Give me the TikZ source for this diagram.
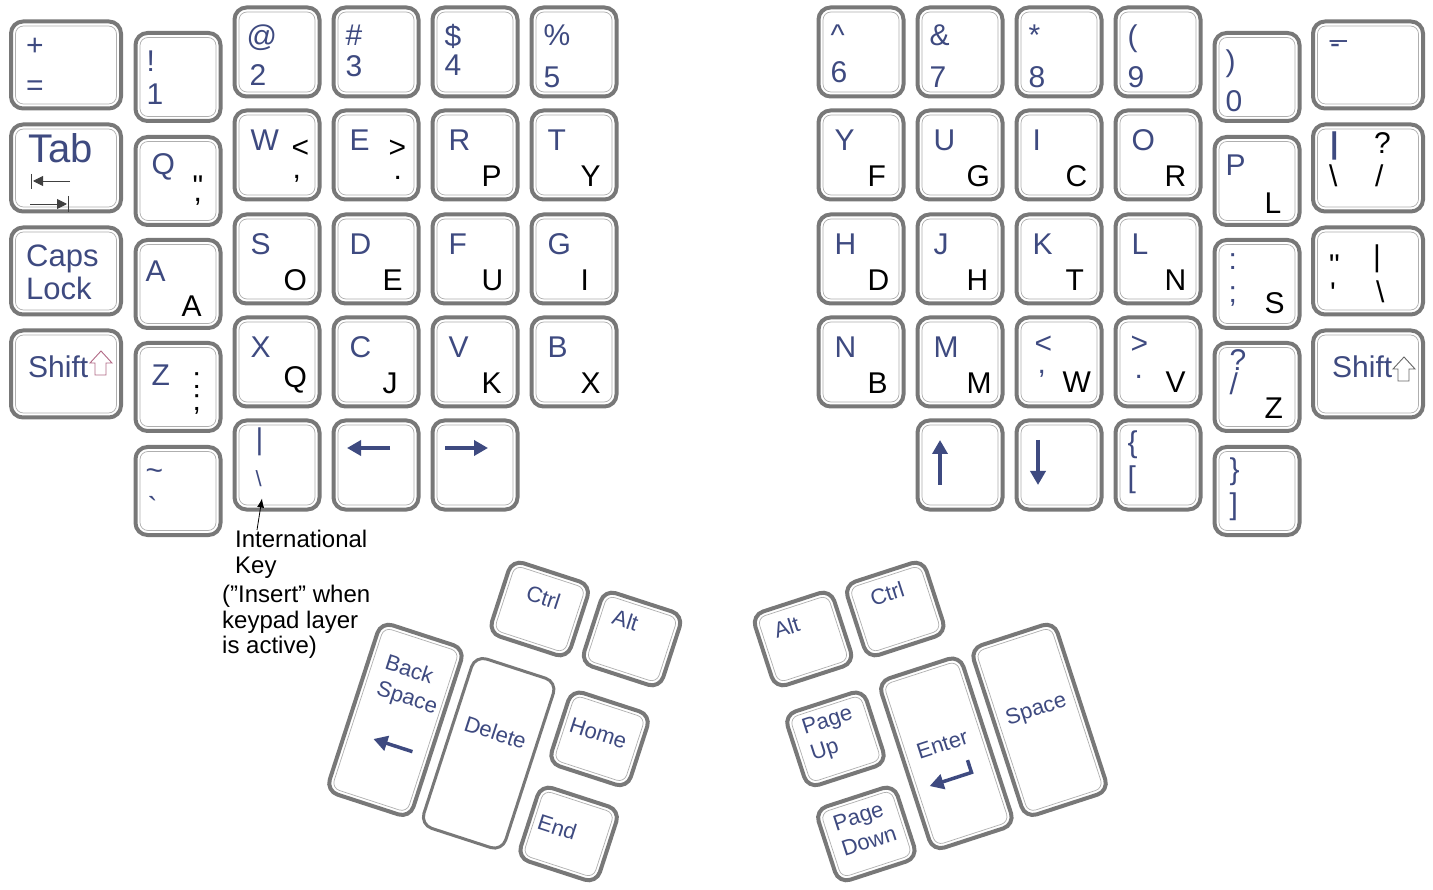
\documentclass[tikz,border=0pt]{standalone}
\usepackage{fontspec}
\setmainfont{Liberation Sans}
\usepackage{tikz}
\usetikzlibrary{arrows.meta,positioning}
\definecolor{keyedge}{RGB}{120,120,120}
\definecolor{keyrim}{RGB}{175,175,175}
\definecolor{qwblue}{RGB}{62,74,128}
\definecolor{shiftmauve}{RGB}{178,106,134}

% key cap with inner rim: name, centre, width, height
\newcommand{\kbkey}[4]{%
  \pgfmathsetmacro{\kbrimw}{#3-9}%
  \pgfmathsetmacro{\kbrimh}{#4-9}%
  \node[keycap, minimum width=#3pt, minimum height=#4pt] (#1) at (#2) {};
  \node[keyrimline, minimum width=\kbrimw pt, minimum height=\kbrimh pt] (#1-rim) at (#1.center) {};
}

\begin{document}
\begin{tikzpicture}[x=1pt, y=-1pt,
  keycap/.style={draw=keyedge, line width=4pt, rounded corners=12pt, fill=white, inner sep=0pt},
  keyrimline/.style={draw=keyrim, line width=0.7pt, rounded corners=8pt, inner sep=0pt},
  qw/.style={text=qwblue, inner sep=0pt, font=\fontsize{30}{33}\selectfont},
  dv/.style={text=black, inner sep=0pt, font=\fontsize{30}{33}\selectfont},
  qwtl/.style={qw, below right=21pt and 18pt of #1.north west},
  dvbr/.style={dv, above right=15pt and 51pt of #1.south west},
  numtl/.style={qw, below right=19pt and 14pt of #1.north west},
  numbl/.style={qw, above right=13pt and 14pt of #1.south west},
  thumb/.style={text=qwblue, inner sep=0pt, font=\fontsize{22}{27}\selectfont, align=left},
  glyph/.style={qwblue, line width=3.5pt, -{Triangle[length=14pt,width=15pt]}},
  tabglyph/.style={black!75, line width=0.9pt, -{Triangle[length=10pt,width=10pt]}},
  tabbar/.style={black!75, line width=0.9pt},
  shiftglyph/.style={line width=0.9pt, line join=miter},
  note/.style={text=black, inner sep=0pt, font=\fontsize{24}{25.5}\selectfont, align=left},
  notearrow/.style={black, line width=0.8pt, -{Latex[length=9pt,width=7pt]}}
]
\useasboundingbox (0,0) rectangle (1433,890);

% left hand, outer columns
\kbkey{kEq}{66,65}{110}{87}
\kbkey{kTab}{66,168}{110}{87}
\kbkey{kCaps}{66,271}{110}{87}
\kbkey{kLShift}{66,374}{110}{87}
\kbkey{k1}{178,77}{85}{88}
\kbkey{kQ}{178,181}{85}{88}
\kbkey{kA}{178,284}{85}{88}
\kbkey{kZ}{178,387}{85}{88}
\kbkey{kGrave}{178,491}{85}{88}
% left hand, main block
\kbkey{k2}{277,52}{85}{89}
\kbkey{kW}{277,155}{85}{89}
\kbkey{kS}{277,259}{85}{89}
\kbkey{kX}{277,362}{85}{89}
\kbkey{kIntl}{277,465}{85}{89}
\kbkey{k3}{376,52}{85}{89}
\kbkey{kE}{376,155}{85}{89}
\kbkey{kD}{376,259}{85}{89}
\kbkey{kC}{376,362}{85}{89}
\kbkey{kLeft}{376,465}{85}{89}
\kbkey{k4}{475,52}{85}{89}
\kbkey{kR}{475,155}{85}{89}
\kbkey{kF}{475,259}{85}{89}
\kbkey{kV}{475,362}{85}{89}
\kbkey{kRight}{475,465}{85}{89}
\kbkey{k5}{574,52}{85}{89}
\kbkey{kT}{574,155}{85}{89}
\kbkey{kG}{574,259}{85}{89}
\kbkey{kB}{574,362}{85}{89}

% right hand, main block
\kbkey{k6}{861,52}{85}{89}
\kbkey{kY}{861,155}{85}{89}
\kbkey{kH}{861,259}{85}{89}
\kbkey{kN}{861,362}{85}{89}
\kbkey{k7}{960,52}{85}{89}
\kbkey{kU}{960,155}{85}{89}
\kbkey{kJ}{960,259}{85}{89}
\kbkey{kM}{960,362}{85}{89}
\kbkey{kUp}{960,465}{85}{89}
\kbkey{k8}{1059,52}{85}{89}
\kbkey{kI}{1059,155}{85}{89}
\kbkey{kK}{1059,259}{85}{89}
\kbkey{kComma}{1059,362}{85}{89}
\kbkey{kDown}{1059,465}{85}{89}
\kbkey{k9}{1158,52}{85}{89}
\kbkey{kO}{1158,155}{85}{89}
\kbkey{kL}{1158,259}{85}{89}
\kbkey{kPeriod}{1158,362}{85}{89}
\kbkey{kLBrace}{1158,465}{85}{89}
% right hand, outer columns
\kbkey{k0}{1257,77}{85}{88}
\kbkey{kP}{1257,181}{85}{88}
\kbkey{kSemi}{1257,284}{85}{88}
\kbkey{kSlash}{1257,387}{85}{88}
\kbkey{kRBrace}{1257,491}{85}{88}
\kbkey{kMinus}{1368,65}{110}{87}
\kbkey{kBslash}{1368,168}{110}{87}
\kbkey{kQuote}{1368,271}{110}{87}
\kbkey{kRShift}{1368,374}{110}{87}

% legends, left outer columns
\node[qw, below right=18pt and 17pt of kEq.north west] (lPlus) {+};
\node[qw, above right=15pt and 17pt of kEq.south west] (lEqual) {=};
\node[qw, font=\fontsize{40}{44}\selectfont, below right=11pt and 19pt of kTab.north west] (lTab) {Tab};
\draw[tabglyph] (70,181) -- (33,181);
\draw[tabbar] (31,174) -- (31,189);
\draw[tabglyph] (30,204) -- (67,204);
\draw[tabbar] (68,196) -- (68,212);
\node[qw, align=left, font=\fontsize{31}{33}\selectfont, below right=19pt and 17pt of kCaps.north west] (lCaps) {Caps\\Lock};
\node[qw, below right=27pt and 19pt of kLShift.north west] (lLShift) {Shift};
\draw[shiftglyph, draw=shiftmauve, shift={(101,351)}] (0,0) -- (11,12) -- (5,12) -- (5,24) -- (-6,24) -- (-6,12) -- (-11,12) -- cycle;
\node[qw, below right=20pt and 13pt of k1.north west] (l1a) {!};
\node[qw, above right=18pt and 13pt of k1.south west] (l1b) {1};
\node[qw, below right=18pt and 18pt of kQ.north west] (lQ) {Q};
\node[dv, below right=41pt and 59pt of kQ.north west] (lQa) {\textquotedbl};
\node[dv, below right=63pt and 60pt of kQ.north west] (lQb) {,};
\node[qw, below right=23pt and 12pt of kA.north west] (lA) {A};
\node[dv, above right=13pt and 48pt of kA.south west] (lAd) {A};
\node[qw, below right=24pt and 18pt of kZ.north west] (lZ) {Z};
\node[dv, below right=31pt and 59pt of kZ.north west] (lZa) {:};
\node[dv, below right=53pt and 59pt of kZ.north west] (lZb) {;};
\node[qw, below right=23pt and 12pt of kGrave.north west] (lTilde) {\textasciitilde};
\node[qw, below right=51pt and 14pt of kGrave.north west] (lGrave) {\textasciigrave};

% legends, left main block
\node[numtl=k2] (l2a) {@};
\node[qw, above right=13pt and 17pt of k2.south west] (l2b) {2};
\node[qwtl=kW] (lW) {W};
\node[dv, below right=31pt and 59pt of kW.north west] (lWa) {<};
\node[dv, below right=67pt and 60pt of kW.north west] (lWb) {,};
\node[qwtl=kS] (lS) {S};
\node[dvbr=kS] (lSd) {O};
\node[qwtl=kX] (lX) {X};
\node[dvbr=kX] (lXd) {Q};
\node[qw, below right=9pt and 23pt of kIntl.north west] (lIntla) {|};
\node[qw, font=\fontsize{22}{24}\selectfont, below right=52pt and 23pt of kIntl.north west] (lIntlb) {\textbackslash};
\node[numtl=k3] (l3a) {\#};
\node[qw, above right=22pt and 14pt of k3.south west] (l3b) {3};
\node[qwtl=kE] (lE) {E};
\node[dv, below right=31pt and 57pt of kE.north west] (lEa) {>};
\node[dv, below right=68pt and 62pt of kE.north west] (lEb) {.};
\node[qwtl=kD] (lD) {D};
\node[dvbr=kD] (lDd) {E};
\node[qwtl=kC] (lC) {C};
\node[dvbr=kC] (lCd) {J};
\draw[glyph] ([xshift=14pt,yshift=17pt]kLeft.center) -- ([xshift=-29pt,yshift=17pt]kLeft.center);
\node[numtl=k4] (l4a) {\$};
\node[qw, above right=23pt and 14pt of k4.south west] (l4b) {4};
\node[qwtl=kR] (lR) {R};
\node[dvbr=kR] (lRd) {P};
\node[qwtl=kF] (lF) {F};
\node[dvbr=kF] (lFd) {U};
\node[qwtl=kV] (lV) {V};
\node[dvbr=kV] (lVd) {K};
\draw[glyph] ([xshift=-30pt,yshift=17pt]kRight.center) -- ([xshift=13pt,yshift=17pt]kRight.center);
\node[numtl=k5] (l5a) {\%};
\node[qw, above right=11pt and 14pt of k5.south west] (l5b) {5};
\node[qwtl=kT] (lT) {T};
\node[dvbr=kT] (lTd) {Y};
\node[qwtl=kG] (lG) {G};
\node[dvbr=kG] (lGd) {I};
\node[qwtl=kB] (lB) {B};
\node[dvbr=kB] (lBd) {X};

% international key note
\node[note, anchor=north west] (nIntl) at (235,530) {International\\Key};
\node[note, below=7pt of nIntl.south west, anchor=north west, xshift=-13pt] (nIntlNote) {("Insert” when\\keypad layer\\is active)};
\coordinate (intlTip) at ([xshift=-15pt,yshift=13pt]kIntl.south);
\draw[notearrow] ([xshift=22pt]nIntl.north west) -- (intlTip);

% legends, right main block
\node[numtl=k6] (l6a) {\textasciicircum};
\node[qw, above right=16pt and 14pt of k6.south west] (l6b) {6};
\node[qwtl=kY] (lY) {Y};
\node[dvbr=kY] (lYd) {F};
\node[qwtl=kH] (lH) {H};
\node[dvbr=kH] (lHd) {D};
\node[qwtl=kN] (lN) {N};
\node[dvbr=kN] (lNd) {B};
\node[numtl=k7] (l7a) {\&};
\node[qw, above right=11pt and 14pt of k7.south west] (l7b) {7};
\node[qwtl=kU] (lU) {U};
\node[dvbr=kU] (lUd) {G};
\node[qwtl=kJ] (lJ) {J};
\node[dvbr=kJ] (lJd) {H};
\node[qwtl=kM] (lM) {M};
\node[dvbr=kM] (lMd) {M};
\draw[glyph] ([xshift=-20pt,yshift=-20pt]kUp.center) -- ([xshift=-20pt,yshift=25pt]kUp.center);
\node[numtl=k8] (l8a) {*};
\node[qw, above right=11pt and 14pt of k8.south west] (l8b) {8};
\node[qwtl=kI] (lI) {I};
\node[dvbr=kI] (lId) {C};
\node[qwtl=kK] (lK) {K};
\node[dvbr=kK] (lKd) {T};
\node[qw, below right=20pt and 20pt of kComma.north west] (lCommaa) {<};
\node[qw, below right=55pt and 23pt of kComma.north west] (lCommab) {,};
\node[dv, above right=16pt and 48pt of kComma.south west] (lCommad) {W};
\draw[glyph] ([xshift=-21pt,yshift=25pt]kDown.center) -- ([xshift=-21pt,yshift=-20pt]kDown.center);
\node[numtl=k9] (l9a) {(};
\node[qw, above right=11pt and 14pt of k9.south west] (l9b) {9};
\node[qwtl=kO] (lO) {O};
\node[dvbr=kO] (lOd) {R};
\node[qwtl=kL] (lL) {L};
\node[dvbr=kL] (lLd) {N};
\node[qw, below right=20pt and 17pt of kPeriod.north west] (lPerioda) {>};
\node[qw, below right=60pt and 21pt of kPeriod.north west] (lPeriodb) {.};
\node[dv, above right=16pt and 52pt of kPeriod.south west] (lPeriodd) {V};
\node[qw, below right=12pt and 14pt of kLBrace.north west] (lLBracea) {\{};
\node[qw, below right=47pt and 14pt of kLBrace.north west] (lLBraceb) {[};

% legends, right outer columns
\node[qw, below right=19pt and 13pt of k0.north west] (l0a) {)};
\node[qw, above right=11pt and 13pt of k0.south west] (l0b) {0};
\node[qw, below right=20pt and 13pt of kP.north west] (lP) {P};
\node[dv, above right=13pt and 52pt of kP.south west] (lPd) {L};
\node[qw, below right=15pt and 16pt of kSemi.north west] (lSemia) {:};
\node[qw, below right=48pt and 16pt of kSemi.north west] (lSemib) {;};
\node[dv, above right=16pt and 52pt of kSemi.south west] (lSemid) {S};
\node[qw, below right=8pt and 17pt of kSlash.north west] (lSlasha) {?};
\node[qw, below right=32pt and 17pt of kSlash.north west] (lSlashb) {/};
\node[dv, above right=14pt and 52pt of kSlash.south west] (lSlashd) {Z};
\node[qw, below right=13pt and 17pt of kRBrace.north west] (lRBracea) {\}};
\node[qw, below right=48pt and 17pt of kRBrace.north west] (lRBraceb) {]};
\node[qw, below right=17pt and 19pt of kMinus.north west] (lMinusa) {\_};
\node[qw, below right=25pt and 19pt of kMinus.north west] (lMinusb) {-};
\node[qw, font=\fontsize{30}{33}\selectfont\bfseries, below right=9pt and 19pt of kBslash.north west] (lBslasha) {|};
\node[dv, below right=42pt and 18pt of kBslash.north west] (lBslashb) {\textbackslash};
\node[dv, below right=10pt and 63pt of kBslash.north west] (lBslashc) {?};
\node[dv, below right=42pt and 64pt of kBslash.north west] (lBslashd) {/};
\node[dv, below right=29pt and 18pt of kQuote.north west] (lQuotea) {\textquotedbl};
\node[dv, below right=57pt and 19pt of kQuote.north west] (lQuoteb) {\textquotesingle};
\node[dv, below right=19pt and 62pt of kQuote.north west] (lQuotec) {|};
\node[dv, below right=55pt and 65pt of kQuote.north west] (lQuoted) {\textbackslash};
\node[qw, below right=27pt and 21pt of kRShift.north west] (lRShift) {Shift};
\draw[shiftglyph, draw=black!60, shift={(1404,357)}] (0,0) -- (11,12) -- (5,12) -- (5,24) -- (-6,24) -- (-6,12) -- (-11,12) -- cycle;

% left thumb cluster
\begin{scope}[shift={(632,639)}, rotate=-18, transform shape]
  \kbkey{kCtrlL}{-97,0}{83}{77}
  \kbkey{kAltL}{0,0}{83}{77}
  \kbkey{kHome}{0,105}{83}{77}
  \kbkey{kEnd}{0,205}{83}{77}
  \node[keycap, line width=3pt, minimum width=86pt, minimum height=178pt] (kDelete) at (-101,153) {};
  \kbkey{kBksp}{-200,150}{88}{178}
  \node[thumb] (tCtrlL) at (-97,-12) {Ctrl};
  \node[thumb] (tAltL) at (-12,-16) {Alt};
  \node[thumb] (tHome) at (-3,100) {Home};
  \node[thumb] (tEnd) at (-13,202) {End};
  \node[thumb] (tDelete) at (-101,131) {Delete};
  \node[thumb, anchor=west] (tBksp) at (-227,113) {Back\\Space};
  \draw[glyph] (-174,175) -- (-215,175);
\end{scope}

% right thumb cluster
\begin{scope}[shift={(803,639)}, rotate=18, transform shape]
  \kbkey{kAltR}{0,0}{83}{77}
  \kbkey{kCtrlR}{97,0}{83}{77}
  \kbkey{kPgUp}{0,105}{83}{77}
  \kbkey{kPgDn}{0,205}{83}{77}
  \kbkey{kEnter}{101,153}{86}{178}
  \kbkey{kSpace}{200,150}{88}{178}
  \node[thumb] (tAltR) at (-12,-16) {Alt};
  \node[thumb] (tCtrlR) at (94,-17) {Ctrl};
  \node[thumb, anchor=west] (tPgUp) at (-28,100) {Page\\Up};
  \node[thumb, anchor=west] (tPgDn) at (-28,199) {Page\\Down};
  \node[thumb] (tEnter) at (100,143) {Enter};
  \node[thumb] (tSpace) at (200,140) {Space};
  \draw[glyph] (119,166) -- (119,179) -- (75,179);
\end{scope}
\end{tikzpicture}
\end{document}
